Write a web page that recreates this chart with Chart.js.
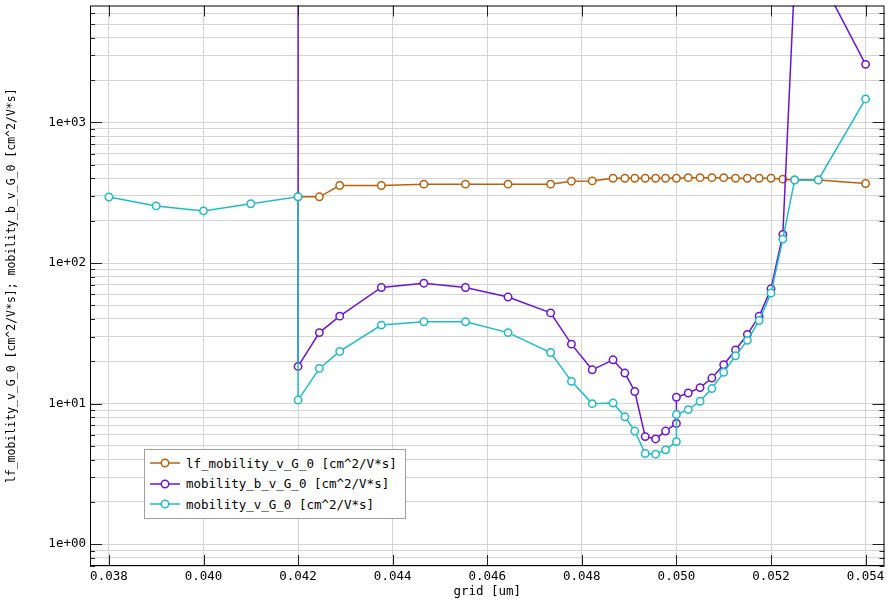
<!DOCTYPE html>
<html>
<head>
<meta charset="utf-8">
<script src="https://cdn.jsdelivr.net/npm/chart.js@4"></script>
<style>
  body { margin: 0; background: #fff; }
  #wrap { position: relative; width: 890px; height: 600px; }
  #legend {
    position: absolute; left: 144px; top: 449px; width: 262px; height: 70px;
    box-sizing: border-box; border: 1px solid #a0a0a0; background: #fff;
    padding-top: 3px; font: 12.5px 'DejaVu Sans Mono', monospace; color: #000;
  }
  #legend .row { height: 20.5px; display: flex; align-items: center; white-space: nowrap; }
  #legend svg { margin-left: 5px; margin-right: 6px; }
</style>
</head>
<body>
<div id="wrap">
  <canvas id="myChart" width="890" height="600"></canvas>
  <div id="legend"></div>
</div>
<script>
// values
const lfGrid = [0.042, 0.04245, 0.04288, 0.04376, 0.04466, 0.04554, 0.04644, 0.04734, 0.04778, 0.04822,
  0.04866, 0.04891, 0.04912, 0.04934, 0.04956, 0.04977, 0.05, 0.05025, 0.0505, 0.05075,
  0.051, 0.05125, 0.0515, 0.05175, 0.052, 0.05225, 0.0525, 0.053, 0.054];
const lfMobility = [296, 296, 356, 356, 364, 364, 364, 364, 382, 384,
  401, 401, 401, 401, 401, 401, 401, 405, 405, 405,
  405, 401, 401, 401, 401, 395, 390, 390, 368];

const bGrid = [0.042, 0.042, 0.04245, 0.04288, 0.04376, 0.04466, 0.04554, 0.04644, 0.04734, 0.04778,
  0.04822, 0.04866, 0.04891, 0.04912, 0.04934, 0.04956, 0.04977, 0.05, 0.05, 0.05025,
  0.0505, 0.05075, 0.051, 0.05125, 0.0515, 0.05175, 0.052, 0.05225, 0.0525, 0.053, 0.054];
const bMobility = [12000, 18.4, 32.0, 41.9, 67.0, 71.9, 67.0, 57.3, 44.2, 26.5,
  17.4, 20.5, 16.5, 12.2, 5.83, 5.61, 6.38, 7.23, 11.1, 11.9,
  13.0, 15.2, 18.9, 24.1, 31.1, 41.9, 65.6, 160, 10700, 11400, 2590];

const mGrid = [0.038, 0.039, 0.040, 0.041, 0.042, 0.042, 0.04245, 0.04288, 0.04376, 0.04466,
  0.04554, 0.04644, 0.04734, 0.04778, 0.04822, 0.04866, 0.04891, 0.04912, 0.04934, 0.04956,
  0.04977, 0.05, 0.05, 0.05025, 0.0505, 0.05075, 0.051, 0.05125, 0.0515, 0.05175,
  0.052, 0.05225, 0.0525, 0.053, 0.054];
const mMobility = [295, 255, 235, 264, 296, 10.6, 17.8, 23.5, 36.2, 38.2,
  38.2, 32.0, 23.1, 14.4, 10.0, 10.1, 8.06, 6.38, 4.42, 4.37,
  4.69, 5.37, 8.37, 9.07, 10.4, 12.8, 16.7, 21.9, 28.2, 39.0,
  61.2, 148, 390, 390, 1470];

const xTickValues = [0.038, 0.040, 0.042, 0.044, 0.046, 0.048, 0.050, 0.052, 0.054];
const yTickValues = [1, 10, 100, 1000];
const yTickLabels = ['1e+00', '1e+01', '1e+02', '1e+03'];

Chart.defaults.font.family = "'DejaVu Sans Mono', monospace";
Chart.defaults.font.size = 12.5;
Chart.defaults.color = '#000';

function pts(xs, ys) {
  return xs.map((x, i) => ({ x: x, y: ys[i] }));
}

function series(label, xs, ys, color, order) {
  return {
    label: label,
    data: pts(xs, ys),
    borderColor: color,
    backgroundColor: '#fff',
    borderWidth: 1.5,
    pointRadius: 3.7,
    pointBorderWidth: 1.5,
    pointBackgroundColor: '#fff',
    pointBorderColor: color,
    tension: 0,
    order: order
  };
}

// ticks drawn inside the frame, plus the black frame itself
const frame = {
  id: 'frame',
  afterDatasetsDraw(chart) {
    const { ctx, chartArea: a, scales } = chart;
    ctx.save();
    ctx.strokeStyle = '#222';
    ctx.lineWidth = 1;
    ctx.beginPath();
    scales.x.ticks.forEach(t => {
      const px = Math.round(scales.x.getPixelForValue(t.value)) + 0.5;
      ctx.moveTo(px, a.bottom); ctx.lineTo(px, a.bottom - 11);
      ctx.moveTo(px, a.top); ctx.lineTo(px, a.top + 11);
    });
    scales.y.ticks.forEach(t => {
      const py = Math.round(scales.y.getPixelForValue(t.value)) + 0.5;
      const len = yTickValues.includes(t.value) ? 12 : 5;
      ctx.moveTo(a.left, py); ctx.lineTo(a.left + len, py);
      ctx.moveTo(a.right, py); ctx.lineTo(a.right - len, py);
    });
    ctx.stroke();
    ctx.strokeStyle = '#000';
    ctx.strokeRect(a.left + 0.5, a.top + 0.5, a.right - a.left - 1, a.bottom - a.top - 1);
    ctx.restore();
  }
};

const ctx = document.getElementById('myChart').getContext('2d');
const myChart = new Chart(ctx, {
  type: 'line',
  data: {
    datasets: [
      series('lf_mobility_v_G_0 [cm^2/V*s]', lfGrid, lfMobility, '#b8620e', 2),
      series('mobility_b_v_G_0 [cm^2/V*s]', bGrid, bMobility, '#6a14d8', 1),
      series('mobility_v_G_0 [cm^2/V*s]', mGrid, mMobility, '#1fbcc4', 0)
    ]
  },
  options: {
    responsive: false,
    animation: false,
    layout: { padding: { top: 4, right: 5, left: 0, bottom: 0 } },
    plugins: {
      legend: { display: false },
      tooltip: { enabled: false }
    },
    scales: {
      x: {
        type: 'linear',
        min: 0.0376,
        max: 0.0544,
        afterBuildTicks(scale) {
          scale.ticks = xTickValues.map(v => ({ value: v }));
        },
        afterFit(scale) {
          scale.height = 34;
          scale.paddingLeft = 0;
          scale.paddingRight = 0;
        },
        ticks: {
          autoSkip: false,
          maxRotation: 0,
          padding: 3,
          callback: v => v.toFixed(3)
        },
        grid: { color: '#d4d4d4', drawTicks: false },
        border: { display: false },
        title: { display: true, text: 'grid [um]', padding: { top: 0, bottom: 1 } }
      },
      y: {
        type: 'logarithmic',
        min: 0.738,
        max: 6790,
        afterBuildTicks(scale) {
          const ticks = [];
          for (let e = -1; e <= 3; e++) {
            for (let m = 1; m <= 9; m++) {
              const v = m * Math.pow(10, e);
              if (v >= scale.min && v <= scale.max) ticks.push({ value: v });
            }
          }
          scale.ticks = ticks;
        },
        afterFit(scale) {
          scale.width = 90;
          scale.paddingTop = 0;
          scale.paddingBottom = 0;
        },
        ticks: {
          autoSkip: false,
          padding: 4,
          callback: v => {
            const i = yTickValues.indexOf(v);
            return i >= 0 ? yTickLabels[i] : '';
          }
        },
        grid: { color: '#d4d4d4', drawTicks: false },
        border: { display: false },
        title: {
          display: true,
          text: 'lf_mobility_v_G_0 [cm^2/V*s]; mobility_b_v_G_0 [cm^2/V*s]',
          font: { size: 11.5 },
          padding: { top: 5, bottom: 0 }
        }
      }
    }
  },
  plugins: [frame]
});

// legend box inside the plot, built from the datasets
const legendEl = document.getElementById('legend');
myChart.data.datasets.forEach(ds => {
  const row = document.createElement('div');
  row.className = 'row';
  row.innerHTML =
    '<svg width="30" height="10"><line x1="0" y1="5" x2="30" y2="5" stroke="' + ds.borderColor +
    '" stroke-width="1.5"/><circle cx="15" cy="5" r="3.7" fill="#fff" stroke="' + ds.borderColor +
    '" stroke-width="1.5"/></svg>';
  const span = document.createElement('span');
  span.textContent = ds.label;
  row.appendChild(span);
  legendEl.appendChild(row);
});
</script>
</body>
</html>
